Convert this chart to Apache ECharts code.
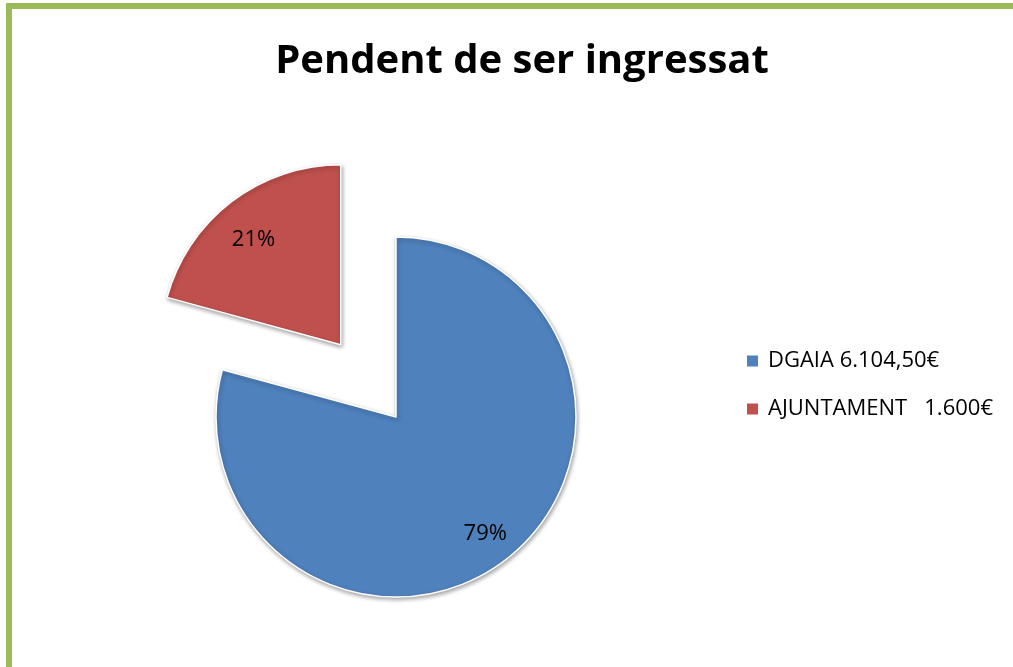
<!DOCTYPE html>
<html>
<head>
<meta charset="utf-8">
<script src="https://cdn.jsdelivr.net/npm/echarts@6/dist/echarts.min.js"></script>
<style>
  html, body { margin: 0; padding: 0; background: #fff; }
  .frame {
    position: absolute; left: 6px; top: 3px; right: 0; bottom: 0;
    border-top: 6px solid #9bbb59; border-left: 6px solid #9bbb59;
  }
  #chart { position: absolute; left: 0; top: 0; width: 1013px; height: 667px; }
</style>
</head>
<body>
<div class="frame"></div>
<div id="chart"></div>
<script>
// dades del gràfic
const titleText = "Pendent de ser ingressat";
const legendNames = ["DGAIA 6.104,50€", "AJUNTAMENT   1.600€"];
const amounts = [6104.5, 1600];
const colors = ["#4f81bd", "#c0504d"];
const explodedIndex = 1;

const pieData = legendNames.map((n, i) => ({
  name: n,
  value: amounts[i],
  selected: i === explodedIndex,
  itemStyle: { color: colors[i] }
}));

const chart = echarts.init(document.getElementById("chart"));
const option = {
  animation: false,
  title: {
    text: titleText,
    left: 517,
    top: 37,
    textAlign: "center",
    textStyle: { fontFamily: "Open Sans", fontWeight: "bold", fontSize: 40, color: "#000" }
  },
  legend: {
    orient: "vertical",
    left: 742,
    top: 345,
    itemWidth: 11,
    itemHeight: 11,
    itemGap: 26,
    icon: "rect",
    selectedMode: false,
    data: legendNames,
    itemStyle: { borderWidth: 0, shadowBlur: 0, shadowOffsetX: 0, shadowOffsetY: 0 },
    textStyle: { fontFamily: "Open Sans", fontSize: 22, color: "#000", padding: [0, 0, 0, 5] }
  },
  series: [
    {
      // les porcions
      type: "pie",
      center: [396, 417],
      radius: 180,
      startAngle: 90,
      clockwise: true,
      selectedMode: "single",
      selectedOffset: 91,
      label: { show: false },
      labelLine: { show: false },
      emphasis: { disabled: true },
      itemStyle: {
        borderColor: "#fff",
        borderWidth: 1.5,
        shadowColor: "rgba(0,0,0,0.35)",
        shadowBlur: 4,
        shadowOffsetX: 1,
        shadowOffsetY: 2
      },
      data: pieData
    },
    {
      // capa invisible només per col·locar els percentatges
      type: "pie",
      center: [396, 417],
      radius: [108, 180],
      startAngle: 90,
      clockwise: true,
      selectedMode: "single",
      selectedOffset: 91,
      silent: true,
      emphasis: { disabled: true },
      legendHoverLink: false,
      itemStyle: { color: "rgba(0,0,0,0)" },
      label: {
        show: true,
        position: "inside",
        fontFamily: "Open Sans",
        fontSize: 22,
        color: "#000",
        formatter: p => Math.round(p.percent) + "%"
      },
      labelLayout: p => (p.dataIndex === explodedIndex ? { dx: 2, dy: 12 } : {}),
      labelLine: { show: false },
      data: pieData.map(d => ({ name: d.name + " ", value: d.value, selected: d.selected }))
    }
  ]
};
chart.setOption(option);
</script>
</body>
</html>
